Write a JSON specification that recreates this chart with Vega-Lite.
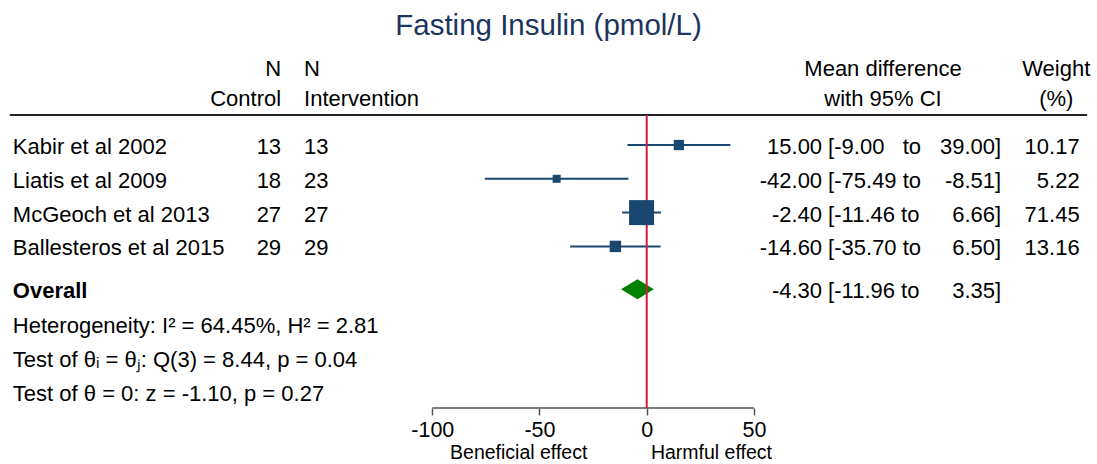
{
  "$schema": "https://vega.github.io/schema/vega-lite/v6.json",
  "width": 1097,
  "height": 363,
  "autosize": {"type": "none"},
  "padding": {"top": 45, "left": 0, "right": 0, "bottom": 56},
  "title": {"text": "Fasting Insulin (pmol/L)", "fontSize": 29.5, "font": "Liberation Sans", "fontWeight": "normal", "color": "#1c355e", "offset": 4, "anchor": "middle"},
  "config": {
    "view": {"stroke": null},
    "font": "Liberation Sans",
    "text": {"font": "Liberation Sans", "fontSize": 22, "color": "#000000", "baseline": "middle"}
  },
  "datasets": {
    "head": [
      {"line": -1.31, "nc": "N", "ni": "N", "mdh": "Mean difference", "wh": "Weight"},
      {"line": -0.42, "study": "Study", "nc": "Control", "ni": "Intervention", "mdh": "with 95% CI", "wh": "(%)"}
    ],
    "studies": [
      {"line": 1, "study": "Kabir et al 2002", "nc": "13", "ni": "13", "md": 15.00, "lo": -9.00, "hi": 39.00, "weight": 10.17, "wt": "10.17"},
      {"line": 2, "study": "Liatis et al 2009", "nc": "18", "ni": "23", "md": -42.00, "lo": -75.49, "hi": -8.51, "weight": 5.22, "wt": "5.22"},
      {"line": 3, "study": "McGeoch et al 2013", "nc": "27", "ni": "27", "md": -2.40, "lo": -11.46, "hi": 6.66, "weight": 71.45, "wt": "71.45"},
      {"line": 4, "study": "Ballesteros et al 2015", "nc": "29", "ni": "29", "md": -14.60, "lo": -35.70, "hi": 6.50, "weight": 13.16, "wt": "13.16"}
    ],
    "overall": [
      {"line": 5.27, "study": "Overall", "md": -4.30, "lo": -11.96, "hi": 3.35}
    ],
    "ci": [
      {"line": 1, "mdt": "15.00", "lot": "\u00a0[-9.00\u00a0\u00a0\u00a0to", "hit": "39.00]"},
      {"line": 2, "mdt": "-42.00", "lot": "[-75.49 to", "hit": "-8.51]"},
      {"line": 3, "mdt": "-2.40", "lot": "[-11.46 to", "hit": "6.66]"},
      {"line": 4, "mdt": "-14.60", "lot": "[-35.70 to", "hit": "6.50]"},
      {"line": 5.27, "mdt": "-4.30", "lot": "[-11.96 to", "hit": "3.35]"}
    ],
    "footer": [
      {"line": 6.3, "text": "Heterogeneity: I² = 64.45%, H² = 2.81"},
      {"line": 7.3, "text": "Test of θᵢ = θⱼ: Q(3) = 8.44, p = 0.04"},
      {"line": 8.3, "text": "Test of θ = 0: z = -1.10, p = 0.27"}
    ],
    "effects": [
      {"label": "Beneficial effect", "at": -59.7, "line": 10.1},
      {"label": "Harmful effect", "at": 30.2, "line": 10.1}
    ]
  },
  "layer": [
    {
      "data": {"values": [{}]},
      "mark": {"type": "rule", "strokeWidth": 2, "color": "#222222"},
      "encoding": {
        "x": {"datum": -297, "type": "quantitative", "scale": {"domain": [-301.6, 210.0], "nice": false, "zero": false}, "axis": {"values": [-100, -50, 0, 50], "labelExpr": "'' + datum.value", "domain": false, "grid": false, "title": null, "tickSize": 7, "tickWidth": 1.5, "tickColor": "#555555", "labelFontSize": 21.5, "labelFont": "Liberation Sans", "labelColor": "#000000", "labelPadding": 4, "labelFlush": false}},
        "x2": {"datum": 205.4},
        "y": {"datum": 0.112, "type": "quantitative", "scale": {"domain": [-1.959, 8.781], "reverse": true, "nice": false, "zero": false}, "axis": null}
      }
    },
    {
      "data": {"values": [{}]},
      "mark": {"type": "rule", "strokeWidth": 1.5, "color": "#555555"},
      "encoding": {
        "x": {"datum": -100, "type": "quantitative"},
        "x2": {"datum": 50},
        "y": {"datum": 8.781, "type": "quantitative"}
      }
    },
    {
      "data": {"name": "overall"},
      "mark": {"type": "point", "shape": "M-1,0L0,-0.61L1,0L0,0.61Z", "size": 1076, "filled": true, "color": "#008000", "opacity": 1},
      "encoding": {
        "x": {"field": "md", "type": "quantitative"},
        "y": {"field": "line", "type": "quantitative"}
      }
    },
    {
      "data": {"name": "studies"},
      "mark": {"type": "rule", "strokeWidth": 2, "color": "#1a476f"},
      "encoding": {
        "x": {"field": "lo", "type": "quantitative"},
        "x2": {"field": "hi"},
        "y": {"field": "line", "type": "quantitative"}
      }
    },
    {
      "data": {"values": [{}]},
      "mark": {"type": "rule", "strokeWidth": 2, "color": "#c91d42"},
      "encoding": {
        "x": {"datum": 0, "type": "quantitative"},
        "y": {"datum": 0.112, "type": "quantitative"},
        "y2": {"datum": 8.781}
      }
    },
    {
      "data": {"name": "studies"},
      "mark": {"type": "point", "shape": "square", "filled": true, "color": "#1a476f", "opacity": 1},
      "encoding": {
        "x": {"field": "md", "type": "quantitative"},
        "y": {"field": "line", "type": "quantitative"},
        "size": {"field": "weight", "type": "quantitative", "scale": {"domain": [5.22, 71.45], "range": [64, 625], "zero": false}, "legend": null}
      }
    },
    {
      "data": {"name": "head"},
      "transform": [{"filter": {"field": "study", "valid": true}}],
      "mark": {"type": "text", "align": "left", "dy": 2},
      "encoding": {"x": {"datum": -295.6, "type": "quantitative"}, "y": {"field": "line", "type": "quantitative"}, "text": {"field": "study"}}
    },
    {
      "data": {"name": "head"},
      "mark": {"type": "text", "align": "right", "dy": 2},
      "encoding": {"x": {"datum": -170.5, "type": "quantitative"}, "y": {"field": "line", "type": "quantitative"}, "text": {"field": "nc"}}
    },
    {
      "data": {"name": "head"},
      "mark": {"type": "text", "align": "left", "dy": 2},
      "encoding": {"x": {"datum": -159.8, "type": "quantitative"}, "y": {"field": "line", "type": "quantitative"}, "text": {"field": "ni"}}
    },
    {
      "data": {"name": "head"},
      "mark": {"type": "text", "align": "center", "dy": 2},
      "encoding": {"x": {"datum": 110.2, "type": "quantitative"}, "y": {"field": "line", "type": "quantitative"}, "text": {"field": "mdh"}}
    },
    {
      "data": {"name": "head"},
      "mark": {"type": "text", "align": "center", "dy": 2},
      "encoding": {"x": {"datum": 191.0, "type": "quantitative"}, "y": {"field": "line", "type": "quantitative"}, "text": {"field": "wh"}}
    },
    {
      "data": {"name": "studies"},
      "mark": {"type": "text", "align": "left", "dy": 2},
      "encoding": {"x": {"datum": -295.6, "type": "quantitative"}, "y": {"field": "line", "type": "quantitative"}, "text": {"field": "study"}}
    },
    {
      "data": {"name": "studies"},
      "mark": {"type": "text", "align": "right", "dy": 2},
      "encoding": {"x": {"datum": -170.5, "type": "quantitative"}, "y": {"field": "line", "type": "quantitative"}, "text": {"field": "nc"}}
    },
    {
      "data": {"name": "studies"},
      "mark": {"type": "text", "align": "left", "dy": 2},
      "encoding": {"x": {"datum": -159.8, "type": "quantitative"}, "y": {"field": "line", "type": "quantitative"}, "text": {"field": "ni"}}
    },
    {
      "data": {"name": "overall"},
      "mark": {"type": "text", "align": "left", "dy": 2, "fontWeight": "bold"},
      "encoding": {"x": {"datum": -295.6, "type": "quantitative"}, "y": {"field": "line", "type": "quantitative"}, "text": {"field": "study"}}
    },
    {
      "data": {"name": "footer"},
      "mark": {"type": "text", "align": "left", "dy": 2},
      "encoding": {"x": {"datum": -295.6, "type": "quantitative"}, "y": {"field": "line", "type": "quantitative"}, "text": {"field": "text"}}
    },
    {
      "data": {"name": "ci"},
      "mark": {"type": "text", "align": "right", "dy": 2},
      "encoding": {"x": {"datum": 81.8, "type": "quantitative"}, "y": {"field": "line", "type": "quantitative"}, "text": {"field": "mdt"}}
    },
    {
      "data": {"name": "ci"},
      "mark": {"type": "text", "align": "left", "dy": 2},
      "encoding": {"x": {"datum": 84.6, "type": "quantitative"}, "y": {"field": "line", "type": "quantitative"}, "text": {"field": "lot"}}
    },
    {
      "data": {"name": "ci"},
      "mark": {"type": "text", "align": "right", "dy": 2},
      "encoding": {"x": {"datum": 165.3, "type": "quantitative"}, "y": {"field": "line", "type": "quantitative"}, "text": {"field": "hit"}}
    },
    {
      "data": {"name": "studies"},
      "mark": {"type": "text", "align": "right", "dy": 2},
      "encoding": {"x": {"datum": 201.9, "type": "quantitative"}, "y": {"field": "line", "type": "quantitative"}, "text": {"field": "wt"}}
    },
    {
      "data": {"name": "effects"},
      "mark": {"type": "text", "align": "center", "fontSize": 19.5},
      "encoding": {"x": {"field": "at", "type": "quantitative"}, "y": {"field": "line", "type": "quantitative"}, "text": {"field": "label"}}
    }
  ]
}
